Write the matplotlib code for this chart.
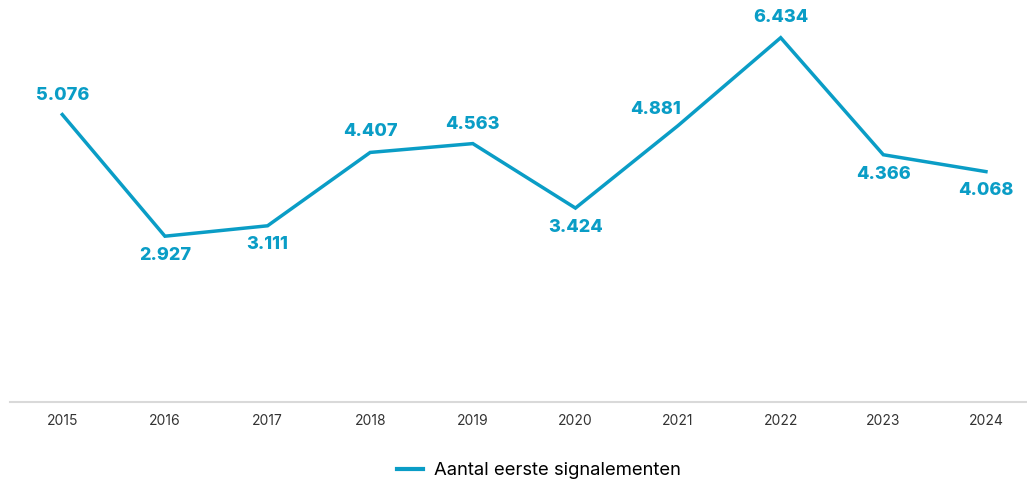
import matplotlib.pyplot as plt

plt.rcParams['font.family'] = ['Inter', 'DejaVu Sans']

years = [2015, 2016, 2017, 2018, 2019, 2020, 2021, 2022, 2023, 2024]
values = [5076, 2927, 3111, 4407, 4563, 3424, 4881, 6434, 4366, 4068]
labels = ['5.076', '2.927', '3.111', '4.407', '4.563', '3.424', '4.881', '6.434', '4.366', '4.068']
# label offsets in pixels (dx, dy) relative to each point
offsets = [(0, 19), (0, -19), (0, -19), (0, 21), (0, 19), (0, -19), (-23, 16), (0, 20), (0, -20), (0, -19)]

color = '#0a9dc6'

fig = plt.figure(figsize=(10.27, 4.79), dpi=100)
ax = fig.add_axes([0.0097, 0.161, 0.9903, 0.839])

ax.plot(years, values, color=color, linewidth=2.5, solid_joinstyle='miter',
        label='Aantal eerste signalementen')

for x, y, t, (dx, dy) in zip(years, values, labels, offsets):
    ax.annotate(t, (x, y), xytext=(dx, dy), textcoords='offset pixels',
                ha='center', va='center', color=color, fontsize=13,
                fontweight='heavy')

ax.set_xlim(2014.49, 2024.40)
ax.set_ylim(0, 7100)
ax.set_xticks(years)
ax.set_xticklabels([str(y) for y in years], fontsize=10, color='#333333')
ax.tick_params(axis='x', length=0, pad=9)
ax.set_yticks([])

for s in ['top', 'right', 'left']:
    ax.spines[s].set_visible(False)
ax.spines['bottom'].set_color('#d9d9d9')
ax.spines['bottom'].set_linewidth(1.5)

leg = fig.legend(loc='lower center', bbox_to_anchor=(0.525, -0.035), frameon=False,
                 fontsize=13.3, handlelength=1.4, handletextpad=0.6)
for h in leg.get_lines():
    h.set_linewidth(3)

fig.savefig('out.png', dpi=100)
